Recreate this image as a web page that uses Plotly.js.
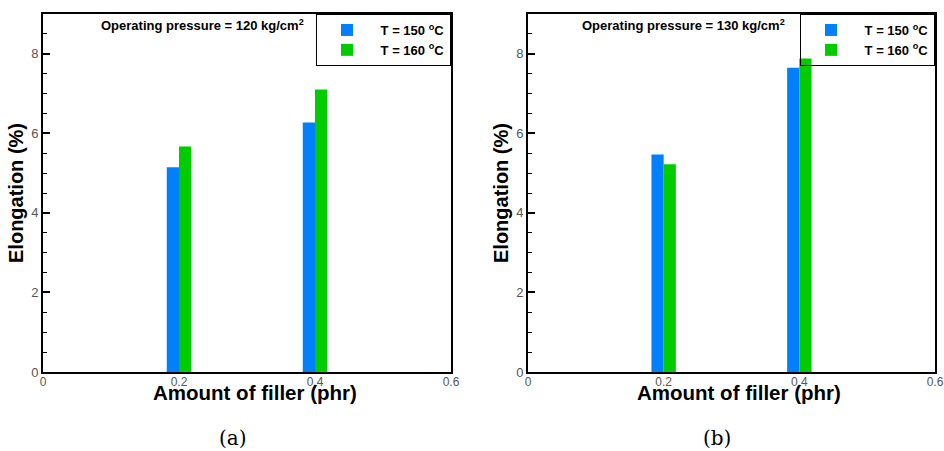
<!DOCTYPE html>
<html>
<head>
<meta charset="utf-8">
<script src="https://cdn.plot.ly/plotly-3.0.1.min.js"></script>
<style>html,body{margin:0;padding:0;background:#fff;}#chart{width:944px;height:451px;}</style>
</head>
<body>
<div id="chart"></div>
<script>
// Data
const fillerAmount = [0.2, 0.4];
const elong120_T150 = [5.15, 6.27];
const elong120_T160 = [5.67, 7.10];
const elong130_T150 = [5.47, 7.65];
const elong130_T160 = [5.22, 7.88];
const seriesNames = ['T = 150 <sup>o</sup>C', 'T = 160 <sup>o</sup>C'];
const xTickVals = [0, 0.2, 0.4, 0.6];
const xTickText = ['0', '0.2', '0.4', '0.6'];
const panelTitles = ['Operating pressure = 120 kg/cm<sup>2</sup>', 'Operating pressure = 130 kg/cm<sup>2</sup>'];
const xTitle = 'Amount of filler (phr)';
const yTitle = 'Elongation (%)';
const captions = ['(a)', '(b)'];

const BLUE = '#0080ff', GREEN = '#00cc00';
const PAD = '\u00a0';
const BW = 0.018;

function bar(x, y, name, color, offset, xa, ya, leg) {
  return {type: 'bar', x: x, y: y, name: PAD + name, marker: {color: color, line: {width: 0}},
          width: BW, offset: offset, xaxis: xa, yaxis: ya, legend: leg, hoverinfo: 'skip'};
}

const traces = [
  bar(fillerAmount, elong120_T150, seriesNames[0], BLUE, -BW, 'x', 'y', 'legend'),
  bar(fillerAmount, elong120_T160, seriesNames[1], GREEN, 0, 'x', 'y', 'legend'),
  bar(fillerAmount, elong130_T150, seriesNames[0], BLUE, -BW, 'x2', 'y2', 'legend2'),
  bar(fillerAmount, elong130_T160, seriesNames[1], GREEN, 0, 'x2', 'y2', 'legend2')
];

const FONT = 'Liberation Sans, Arial, sans-serif';
function xAxis(domain, anchor) {
  return {domain: domain, anchor: anchor, range: [0, 0.6], tickvals: xTickVals, ticktext: xTickText,
    ticks: '', showline: true, linecolor: '#000', linewidth: 2, mirror: true, showgrid: false, zeroline: false,
    ticklabelstandoff: -2,
    tickfont: {family: FONT, size: 12, color: '#555'}};
}
function yAxis(anchor) {
  return {domain: [0, 1], anchor: anchor, range: [0, 9], tickvals: [0, 2, 4, 6, 8],
    ticks: 'inside', ticklen: 7, tickwidth: 2, tickcolor: '#000',
    minor: {dtick: 0.5, ticks: 'inside', ticklen: 4, tickwidth: 1, tickcolor: '#000', showgrid: false},
    showline: true, linecolor: '#000', linewidth: 2, mirror: true, showgrid: false, zeroline: false,
    tickfont: {family: FONT, size: 13, color: '#555'},
    title: {text: yTitle, font: {family: FONT, size: 20, color: '#000', weight: 700}, standoff: 2}};
}
function legendCfg(x) {
  return {x: x, xanchor: 'right', y: 1, yanchor: 'top', bgcolor: 'rgba(255,255,255,0)',
    bordercolor: '#000', borderwidth: 1, itemwidth: 50, tracegroupgap: 0,
    font: {family: FONT, size: 13, color: '#000', weight: 700}, itemclick: false, itemdoubleclick: false};
}

const titleFont = {family: FONT, size: 13, color: '#000', weight: 700};
const axTitleFont = {family: FONT, size: 20.5, color: '#000', weight: 700};
const capFont = {family: 'DejaVu Serif, serif', size: 20, color: '#000'};

const layout = {
  width: 944, height: 451,
  margin: {l: 43, r: 9, t: 14, b: 79},
  paper_bgcolor: '#fff', plot_bgcolor: '#fff',
  showlegend: true, barmode: 'overlay',
  xaxis: xAxis([0, 0.4574], 'y'),
  yaxis: yAxis('x'),
  xaxis2: xAxis([0.5437, 1], 'y2'),
  yaxis2: yAxis('x2'),
  legend: legendCfg(0.4574),
  legend2: legendCfg(1),
  annotations: [
    {text: panelTitles[0], xref: 'paper', yref: 'paper', x: 0.179, y: 0.969, xanchor: 'center', yanchor: 'middle', showarrow: false, font: titleFont},
    {text: panelTitles[1], xref: 'paper', yref: 'paper', x: 0.7186, y: 0.969, xanchor: 'center', yanchor: 'middle', showarrow: false, font: titleFont},
    {text: xTitle, xref: 'paper', yref: 'paper', x: 0.2377, y: -0.0559, xanchor: 'center', yanchor: 'middle', showarrow: false, font: axTitleFont},
    {text: xTitle, xref: 'paper', yref: 'paper', x: 0.7803, y: -0.0559, xanchor: 'center', yanchor: 'middle', showarrow: false, font: axTitleFont},
    {text: captions[0], xref: 'paper', yref: 'paper', x: 0.213, y: -0.184, xanchor: 'center', yanchor: 'middle', showarrow: false, font: capFont},
    {text: captions[1], xref: 'paper', yref: 'paper', x: 0.756, y: -0.184, xanchor: 'center', yanchor: 'middle', showarrow: false, font: capFont}
  ]
};

Plotly.newPlot('chart', traces, layout, {staticPlot: true, displayModeBar: false});
</script>
</body>
</html>
